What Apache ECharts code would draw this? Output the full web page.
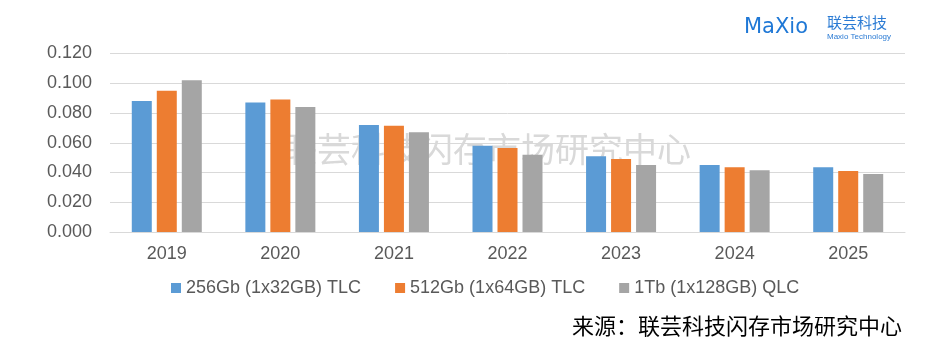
<!DOCTYPE html>
<html>
<head>
<meta charset="utf-8">
<script src="https://cdn.jsdelivr.net/npm/echarts@6/dist/echarts.min.js"></script>
<style>
html,body{margin:0;padding:0;background:#fff;}
#c{width:932px;height:356px;}
</style>
</head>
<body>
<div id="c"></div>
<script>
var categories = ['2019','2020','2021','2022','2023','2024','2025'];
var seriesNames = ['256Gb (1x32GB) TLC','512Gb (1x64GB) TLC','1Tb (1x128GB) QLC'];
var tlc256 = [0.088, 0.087, 0.072, 0.058, 0.051, 0.045, 0.0435];
var tlc512 = [0.095, 0.089, 0.0715, 0.0565, 0.049, 0.0435, 0.041];
var qlc1t  = [0.102, 0.084, 0.067, 0.052, 0.045, 0.0415, 0.039];
var yTicks = [0, 0.02, 0.04, 0.06, 0.08, 0.10, 0.12];
var colors = ['#5b9bd5','#ed7d31','#a5a5a5'];

var chart = echarts.init(document.getElementById('c'), null, {renderer:'canvas'});
var font = 'Liberation Sans, Arial, sans-serif';
var cjk = 'Noto Sans CJK SC, sans-serif';
chart.setOption({
  animation:false,
  color: colors,
  grid:{left:110, right:27, top:53.5, bottom:124, containLabel:false},
  legend:{
    left:166, top:274, itemWidth:10, itemHeight:10, itemGap:34,
    icon:'rect',
    textStyle:{fontFamily:font, fontSize:18, color:'#595959'},
    data: seriesNames
  },
  xAxis:{
    type:'category', data:categories,
    axisLine:{show:true, lineStyle:{color:'#d9d9d9', width:1}},
    axisTick:{show:false},
    axisLabel:{fontFamily:font, fontSize:18, color:'#595959', margin:13}
  },
  yAxis:{
    type:'value', min:yTicks[0], max:yTicks[yTicks.length-1], interval:0.02,
    axisLine:{show:false}, axisTick:{show:false},
    splitLine:{lineStyle:{color:'#d9d9d9', width:1}},
    axisLabel:{fontFamily:font, fontSize:18, color:'#595959', margin:18,
      formatter:function(v){return v.toFixed(3);}}
  },
  series:[
    {name:seriesNames[0], type:'bar', data:tlc256, barWidth:20, barGap:'25%', z:3},
    {name:seriesNames[1], type:'bar', data:tlc512, barWidth:20, barGap:'25%', z:3},
    {name:seriesNames[2], type:'bar', data:qlc1t, barWidth:20, barGap:'25%', z:3}
  ],
  graphic:[
    {type:'text', left:283, top:132, z:0, silent:true,
      style:{text:'联芸科技闪存市场研究中心', fontFamily:cjk, fontSize:34, fill:'#d9d9d9'}},
    {type:'text', right:30, top:315, z:5,
      style:{text:'来源：联芸科技闪存市场研究中心', fontFamily:cjk, fontSize:22, fill:'#000'}},
    {type:'text', left:744, top:17, z:5,
      style:{text:'MaXio', fontFamily:'DejaVu Sans, sans-serif', fontWeight:'normal', fontSize:21, fill:'#1f78d6'}},
    {type:'text', left:827, top:15, z:5,
      style:{text:'联芸科技', fontFamily:cjk, fontSize:15, fill:'#2b7bd4'}},
    {type:'text', left:827, top:33, z:5,
      style:{text:'Maxio Technology', fontFamily:font, fontSize:8, fill:'#2b7bd4'}}
  ]
});
</script>
</body>
</html>
